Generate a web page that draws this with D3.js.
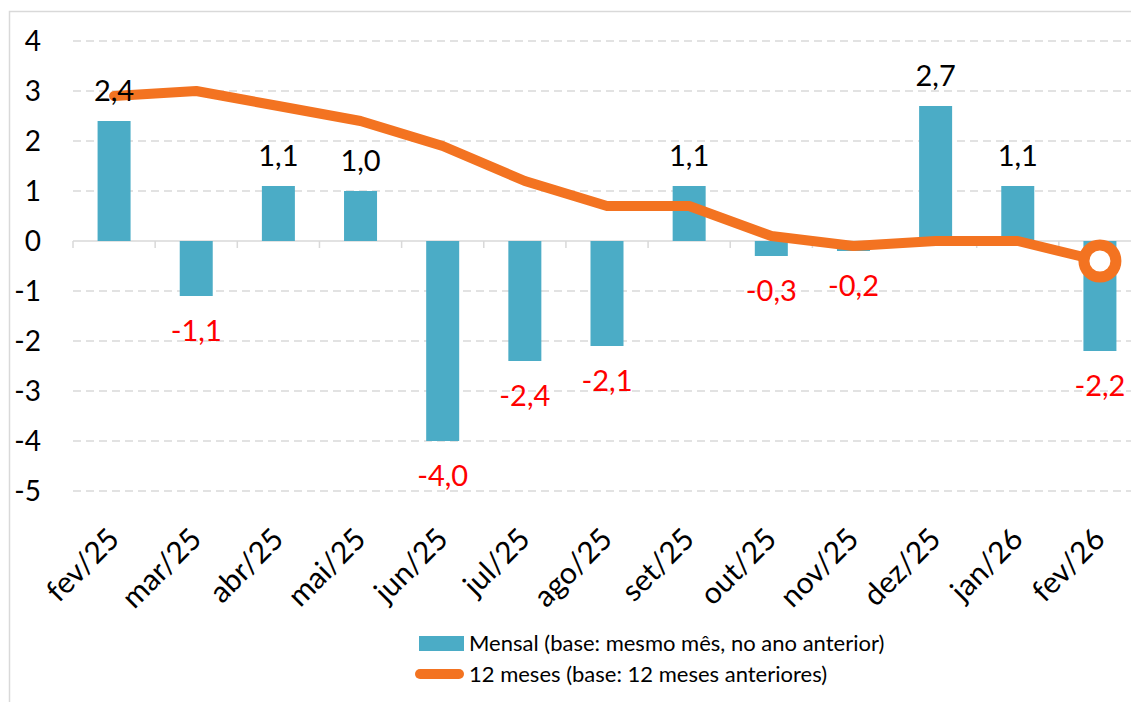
<!DOCTYPE html>
<html>
<head>
<meta charset="utf-8">
<script src="https://cdn.jsdelivr.net/npm/d3@7"></script>
<style>
  body { margin: 0; background: #fff; }
  text { font-family: Lato, "Noto Sans", sans-serif; }
</style>
</head>
<body>
<svg id="chart" width="1131" height="702"></svg>
<script>
const months = ['fev/25', 'mar/25', 'abr/25', 'mai/25', 'jun/25', 'jul/25', 'ago/25',
  'set/25', 'out/25', 'nov/25', 'dez/25', 'jan/26', 'fev/26'];
const mensal = [2.4, -1.1, 1.1, 1.0, -4.0, -2.4, -2.1, 1.1, -0.3, -0.2, 2.7, 1.1, -2.2];
const dozeMeses = [2.9, 3.0, 2.7, 2.4, 1.9, 1.2, 0.7, 0.7, 0.1, -0.1, 0.0, 0.0, -0.4];
const yTicks = [4, 3, 2, 1, 0, -1, -2, -3, -4, -5];
const legendNames = ['Mensal (base: mesmo mês, no ano anterior)', '12 meses (base: 12 meses anteriores)'];

const blue = '#4bacc6';
const orange = '#f37321';

const svg = d3.select('#chart');
const margin = { left: 73, right: 1141, top: 41, bottom: 491 };

// outer frame
svg.append('rect')
  .attr('x', 9.5).attr('y', 11.5)
  .attr('width', 1140).attr('height', 720)
  .attr('fill', 'none').attr('stroke', '#d9d9d9').attr('stroke-width', 1.5);

const xBand = d3.scaleBand().domain(months).range([margin.left, margin.right]);
const y = d3.scaleLinear().domain([-5, 4]).range([margin.bottom, margin.top]);
const cx = d => xBand(d) + xBand.bandwidth() / 2;

// gridlines
svg.append('g')
  .selectAll('line')
  .data(yTicks.filter(d => d !== 0))
  .join('line')
  .attr('x1', margin.left).attr('x2', margin.right)
  .attr('y1', d => y(d)).attr('y2', d => y(d))
  .attr('stroke', '#d9d9d9').attr('stroke-width', 1.3)
  .attr('stroke-dasharray', '8,5');

// y labels
svg.append('g')
  .selectAll('text')
  .data(yTicks)
  .join('text')
  .attr('x', 41).attr('y', d => y(d))
  .attr('dy', '0.36em')
  .attr('text-anchor', 'end')
  .attr('font-size', 28)
  .attr('fill', '#000')
  .text(d => d);

// zero axis with ticks between categories
const zero = svg.append('g').attr('transform', `translate(0,${y(0)})`);
zero.append('line')
  .attr('x1', margin.left).attr('x2', margin.right)
  .attr('stroke', '#d9d9d9').attr('stroke-width', 1.5);
zero.selectAll('.tk')
  .data(months)
  .join('line')
  .attr('class', 'tk')
  .attr('x1', d => xBand(d)).attr('x2', d => xBand(d))
  .attr('y1', 0).attr('y2', 7)
  .attr('stroke', '#d9d9d9').attr('stroke-width', 1.5);

// bars
svg.append('g')
  .selectAll('rect')
  .data(months)
  .join('rect')
  .attr('x', d => cx(d) - 16.5)
  .attr('width', 33)
  .attr('y', (d, i) => y(Math.max(0, mensal[i])))
  .attr('height', (d, i) => Math.abs(y(mensal[i]) - y(0)))
  .attr('fill', blue);

// line
const line = d3.line()
  .x((d, i) => cx(months[i]))
  .y(d => y(d));

svg.append('path')
  .datum(dozeMeses)
  .attr('d', line)
  .attr('fill', 'none')
  .attr('stroke', orange)
  .attr('stroke-width', 10)
  .attr('stroke-linejoin', 'round')
  .attr('stroke-linecap', 'round');

// end marker
const last = months.length - 1;
svg.append('circle')
  .attr('cx', cx(months[last]))
  .attr('cy', y(dozeMeses[last]))
  .attr('r', 16)
  .attr('fill', '#fff')
  .attr('stroke', orange)
  .attr('stroke-width', 11);

// data labels
svg.append('g')
  .selectAll('text')
  .data(months)
  .join('text')
  .attr('x', d => cx(d))
  .attr('y', (d, i) => mensal[i] >= 0 ? y(mensal[i]) - 20 : y(mensal[i]) + 45)
  .attr('text-anchor', 'middle')
  .attr('font-size', 29)
  .attr('fill', (d, i) => mensal[i] >= 0 ? '#000' : '#ff0000')
  .text((d, i) => d3.format('.1f')(mensal[i]).replace('.', ',').replace('−', '-'));

// x labels
svg.append('g')
  .selectAll('text')
  .data(months)
  .join('text')
  .attr('transform', d => `translate(${cx(d) + 7},${541}) rotate(-45)`)
  .attr('text-anchor', 'end')
  .attr('font-size', 30)
  .attr('fill', '#000')
  .text(d => d);

// legend
const lg = svg.append('g');
lg.append('rect')
  .attr('x', 419).attr('y', 636).attr('width', 45).attr('height', 15)
  .attr('fill', blue);
lg.append('line')
  .attr('x1', 420).attr('x2', 459).attr('y1', 674).attr('y2', 674)
  .attr('stroke', orange).attr('stroke-width', 10).attr('stroke-linecap', 'round');
lg.selectAll('text')
  .data(legendNames)
  .join('text')
  .attr('x', 469)
  .attr('y', (d, i) => 643 + i * 31)
  .attr('dy', '0.35em')
  .attr('font-size', 22)
  .attr('fill', '#000')
  .text(d => d);
</script>
</body>
</html>
